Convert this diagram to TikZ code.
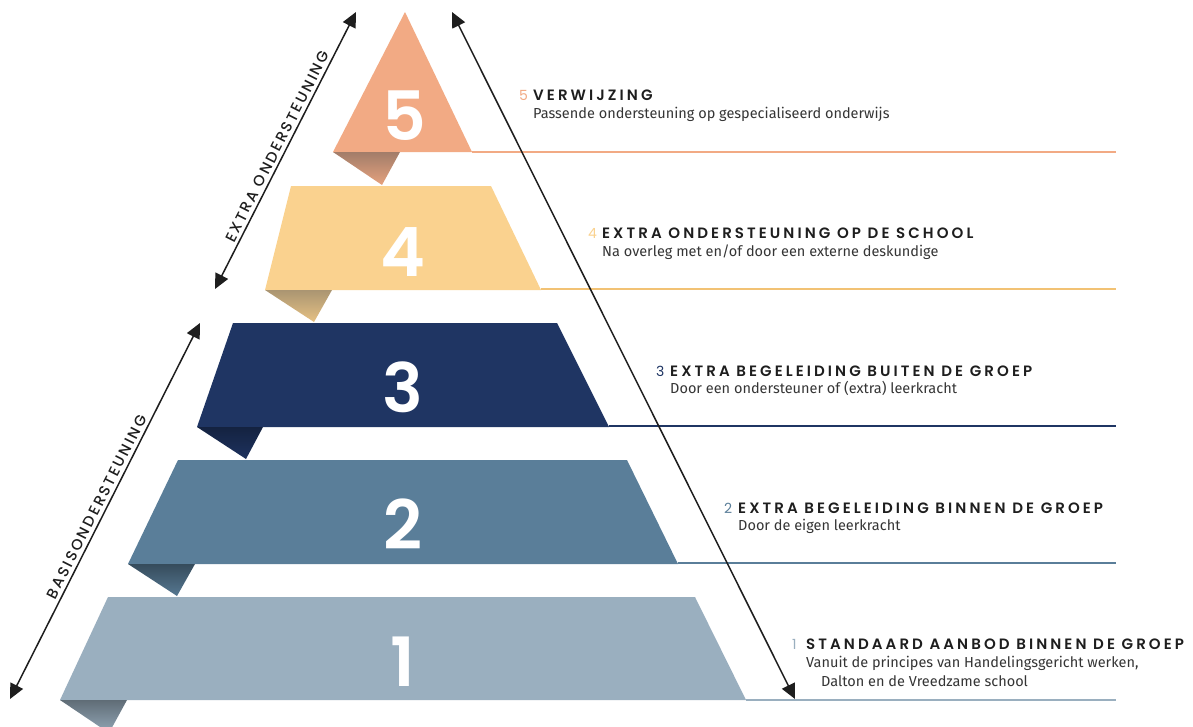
\documentclass[tikz,border=0pt]{standalone}
\usepackage{fontspec}
\setmainfont{Fira Sans}
\IfFontExistsTF{Poppins SemiBold}{%
  \newfontfamily\digitfont{Poppins SemiBold}%
  \newfontfamily\headfont[LetterSpace=20.5]{Poppins SemiBold}%
}{%
  \newfontfamily\digitfont[FakeBold=2]{Poppins}%
  \newfontfamily\headfont[LetterSpace=20.5,FakeBold=2]{Poppins}%
}
\IfFontExistsTF{Poppins Medium}{%
  \newfontfamily\sidefont[LetterSpace=15]{Poppins Medium}%
}{%
  \newfontfamily\sidefont[LetterSpace=15]{Poppins}%
}
\newfontfamily\numfont[LetterSpace=15]{Poppins}
\usetikzlibrary{arrows.meta}
\definecolor{cfive}{HTML}{F2AA84}
\definecolor{cfour}{HTML}{FAD28F}
\definecolor{cfourline}{HTML}{F2C274}
\definecolor{cthree}{HTML}{1F3563}
\definecolor{ctwo}{HTML}{5A7E99}
\definecolor{cone}{HTML}{9AAFBF}
\definecolor{ink}{HTML}{1E1E1E}
\begin{document}
\begin{tikzpicture}[x=1pt,y=-1pt,
  dblarrow/.style={line width=1.5pt, ink, {Triangle[length=15pt,width=14pt]}-{Triangle[length=15pt,width=14pt]}},
  bignum/.style={text=white, font=\digitfont\fontsize{68}{68}\selectfont, anchor=base, inner sep=0pt},
  headnum/.style={anchor=base west, inner sep=0pt, font=\numfont\fontsize{14}{14}\selectfont},
  headtxt/.style={anchor=base west, inner sep=0pt, text=ink, font=\headfont\fontsize{15}{15}\selectfont},
  subtxt/.style={anchor=base west, inner sep=0pt, text=ink!90, font=\fontsize{14.5}{18.5}\selectfont},
  sidelbl/.style={sloped, above, inner sep=3pt, text=ink, font=\sidefont\fontsize{15}{15}\selectfont},
  levelline/.style={line width=1.4pt}
]
\useasboundingbox (0,0) rectangle (1193,726);
\fill[white] (0,0) rectangle (1193,726);
\begin{scope}
\clip (0,0) rectangle (1193,726);
% level 5
\fill[cfive] (405,12) -- (472,152) -- (333,152) -- cycle;
\shade[top color=cfive!60!black!85, bottom color=cfive!95!black] (333,152) -- (400,152) -- (382,185) -- cycle;
% level 4
\fill[cfour] (291,186) -- (491,186) -- (541,290) -- (265,290) -- cycle;
\shade[top color=cfour!62!black!85, bottom color=cfour!92!black] (265,290) -- (332,290) -- (314,322) -- cycle;
% level 3
\fill[cthree] (233,323) -- (557,323) -- (609,427) -- (197,427) -- cycle;
\shade[top color=cthree!65!black, bottom color=cthree!95!black] (197,427) -- (263,427) -- (246,459) -- cycle;
% level 2
\fill[ctwo] (178,460) -- (627,460) -- (678,564) -- (128,564) -- cycle;
\shade[top color=ctwo!60!black, bottom color=ctwo!95!black] (128,564) -- (195,564) -- (177,596) -- cycle;
% level 1
\fill[cone] (108,597) -- (695,597) -- (746,700) -- (60,700) -- cycle;
\shade[top color=cone!62!black, bottom color=cone!95!black] (60,700) -- (127,700) -- (109,733) -- cycle;
\end{scope}
% level lines
\draw[levelline, cfive] (472,152) -- (1116,152);
\draw[levelline, cfourline, line width=1.8pt] (541,289) -- (1116,289);
\draw[levelline, cthree] (609,426) -- (1116,426);
\draw[levelline, ctwo] (678,563) -- (1116,563);
\draw[levelline, cone] (746,700) -- (1116,700);
% big numbers
\node[bignum] (b5) at (404,140) {5};
\node[bignum] (b4) at (403,276) {4};
\node[bignum] (b3) at (403,412) {3};
\node[bignum] (b2) at (403,549) {2};
\node[bignum] (b1) at (403,686) {1};
% headings
\node[headnum, text=cfive] (h5n) at (519,100) {5};
\node[headtxt] (h5) at (533,100) {VERWIJZING};
\node[subtxt] (s5) at (533,118) {Passende ondersteuning op gespecialiseerd onderwijs};
\node[headnum, text=cfour] (h4n) at (588,238) {4};
\node[headtxt] (h4) at (602,238) {EXTRA ONDERSTEUNING OP DE SCHOOL};
\node[subtxt] (s4) at (602,256) {Na overleg met en/of door een externe deskundige};
\node[headnum, text=cthree] (h3n) at (656,376) {3};
\node[headtxt] (h3) at (670,376) {EXTRA BEGELEIDING BUITEN DE GROEP};
\node[subtxt] (s3) at (670,393) {Door een ondersteuner of (extra) leerkracht};
\node[headnum, text=ctwo] (h2n) at (724,513) {2};
\node[headtxt] (h2) at (738,513) {EXTRA BEGELEIDING BINNEN DE GROEP};
\node[subtxt] (s2) at (738,530) {Door de eigen leerkracht};
\node[headnum, text=cone] (h1n) at (792,649) {1};
\node[headtxt] (h1) at (806,649) {STANDAARD AANBOD BINNEN DE GROEP};
\node[subtxt] (s1) at (806,667) {Vanuit de principes van Handelingsgericht werken,};
\node[subtxt] (s1b) at (821,686) {Dalton en de Vreedzame school};
% arrows
\coordinate (rt) at (452,12);
\coordinate (rb) at (795,699);
\coordinate (et) at (356,12);
\coordinate (eb) at (215,289);
\coordinate (bt) at (200,323);
\coordinate (bb) at (10,699);
\draw[dblarrow] (rt) -- (rb);
\draw[dblarrow] (eb) -- node[sidelbl] {EXTRA ONDERSTEUNING} (et);
\draw[dblarrow] (bb) -- node[sidelbl] {BASISONDERSTEUNING} (bt);
\end{tikzpicture}
\end{document}
